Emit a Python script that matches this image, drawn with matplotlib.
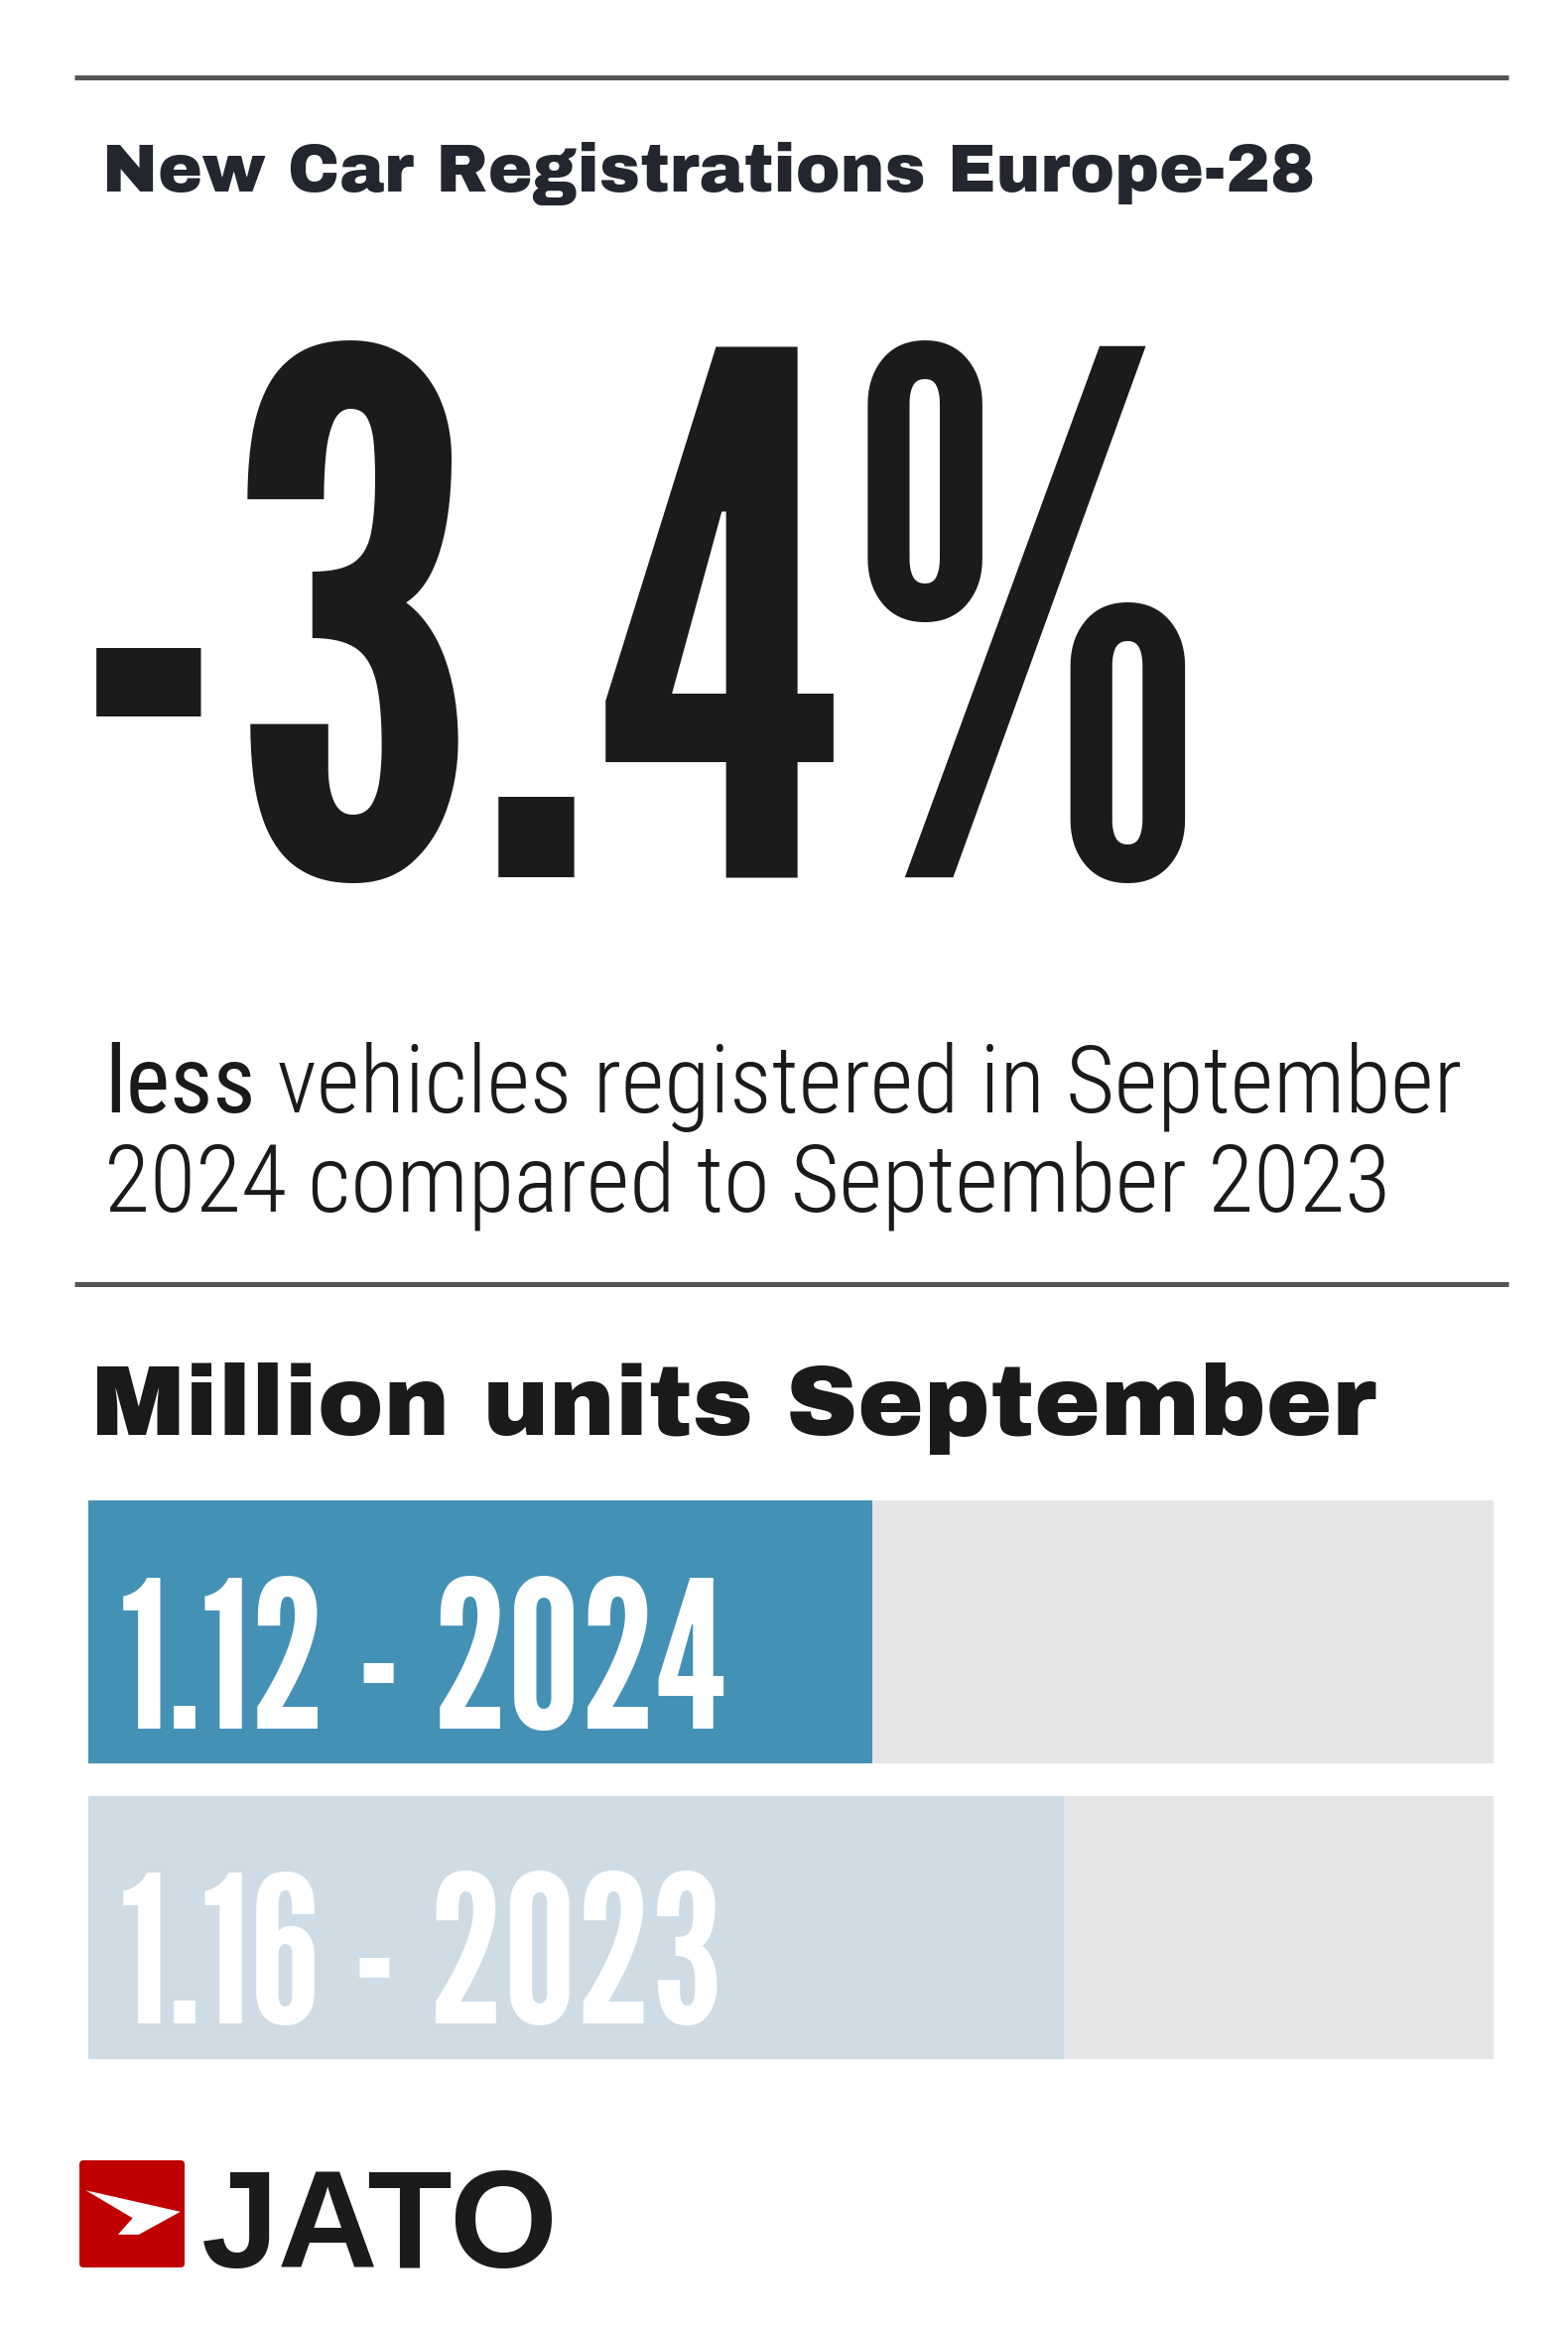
import numpy as np
import matplotlib
matplotlib.use("Agg")
import matplotlib.pyplot as plt
from matplotlib.textpath import TextPath
from matplotlib.font_manager import FontProperties
from matplotlib.patches import FancyBboxPatch, Polygon

W, H, DPI = 1580, 2347, 100

# data
years = ["2024", "2023"]
units = [1.12, 1.16]          # million units, September
change_pct = -3.4
axis_min, axis_max = 0.956, 1.25
bar_colors = ["#4491b6", "#cfdce6"]
track_color = "#e6e5e7"

title = "New Car Registrations Europe-28"
sub1_bold = "less"
sub1_rest = "vehicles registered in September"
sub2 = "2024 compared to September 2023"
section = "Million units September"

fig = plt.figure(figsize=(W / DPI, H / DPI), dpi=DPI)
bg = fig.add_axes([0, 0, 1, 1])
bg.set_xlim(0, W)
bg.set_ylim(H, 0)
bg.axis("off")
bg.set_zorder(2)   # texts on top of the bar axes
rend = fig.canvas.get_renderer()


def fp_of(family, weight="normal"):
    return FontProperties(family=family, weight=weight)


def fit_size(s, fp, width=None, height=None):
    # font size (pt) so that the ink box has the wanted width or height (px)
    bb = TextPath((0, 0), s, size=100, prop=fp).get_extents()
    em = width * 100 / bb.width if width else height * 100 / bb.y1
    return em * 72 / DPI, bb.x0 * em / 100


def put(s, x, base, fp, size, lsb=0.0, **kw):
    f = fp.copy()
    f.set_size(size)
    return bg.text(x - lsb, base, s, fontproperties=f, va="baseline", ha="left", **kw)


# rules
for y in (78, 1294):
    bg.plot([75, 1520], [y, y], color="#555555", lw=3.6, solid_capstyle="butt")

# title
fp = fp_of("Archivo Black")
sz, lsb = fit_size(title, fp, width=1216)
put(title, 108, 193, fp, sz, lsb, color="#23262f")

# big number
big = f"{change_pct:.1f}%"
fp = fp_of("League Gothic")
sz, lsb = fit_size(big, fp, height=540)
put(big, 97, 884, fp, sz, lsb, color="#1b1b1b")

# sentence
fp_l = fp_of("Roboto Condensed", 300)
fp_r = fp_of("Roboto Condensed", 400)
sz, lsb = fit_size(sub2, fp_l, width=1287)
put(sub2, 110, 1220, fp_l, sz, lsb, color="#1a1a1a")
t = put(sub1_bold, 110, 1121, fp_r, sz, lsb, color="#1a1a1a")
f = fp_l.copy()
f.set_size(sz)
space = (rend.get_text_width_height_descent("a a", f, False)[0]
         - rend.get_text_width_height_descent("aa", f, False)[0])
x1 = t.get_window_extent(rend).x1
put(sub1_rest, x1 + space, 1121, fp_l, sz, 0, color="#1a1a1a")

# section header
fp = fp_of("Archivo Black")
sz, lsb = fit_size(section, fp, width=1287)
put(section, 98, 1446, fp, sz, lsb, color="#1a1a1a")

# bars
bx0, bx1, by0, by1 = 89, 1505, 1512, 2075
axb = fig.add_axes([bx0 / W, 1 - by1 / H, (bx1 - bx0) / W, (by1 - by0) / H])
ypos = np.arange(len(units))
bh = 264 / 296
axb.barh(ypos, axis_max - axis_min, left=axis_min, height=bh, color=track_color)
axb.barh(ypos, np.array(units) - axis_min, left=axis_min, height=bh, color=bar_colors)
axb.set_xlim(axis_min, axis_max)
axb.set_ylim(1 + bh / 2, -bh / 2)
axb.axis("off")

fp = fp_of("League Gothic")
for yi, v, yr in zip(ypos, units, years):
    lab = f"{v:.2f} - {yr}"
    sz, lsb = fit_size(lab, fp, height=154)
    cy = H - axb.transData.transform((axis_min, yi))[1]
    put(lab, 124, cy + 97, fp, sz, lsb, color="white")

# logo
sq = FancyBboxPatch((80, 2177), 106, 108, boxstyle="round,pad=0,rounding_size=4",
                    fc="#c00000", ec="none")
bg.add_patch(sq)
arrow = np.array([(0.06, 0.28), (0.96, 0.48), (0.565, 0.693), (0.367, 0.693), (0.506, 0.539)])
bg.add_patch(Polygon(np.c_[80 + arrow[:, 0] * 106, 2177 + arrow[:, 1] * 108],
                     closed=True, fc="white", ec="none"))
fp = fp_of("Liberation Sans", "bold")
sz, lsb = fit_size("JATO", fp, width=352)
put("JATO", 205, 2285, fp, sz, lsb, color="#1b1b1b")

fig.savefig("out.png", dpi=DPI)
